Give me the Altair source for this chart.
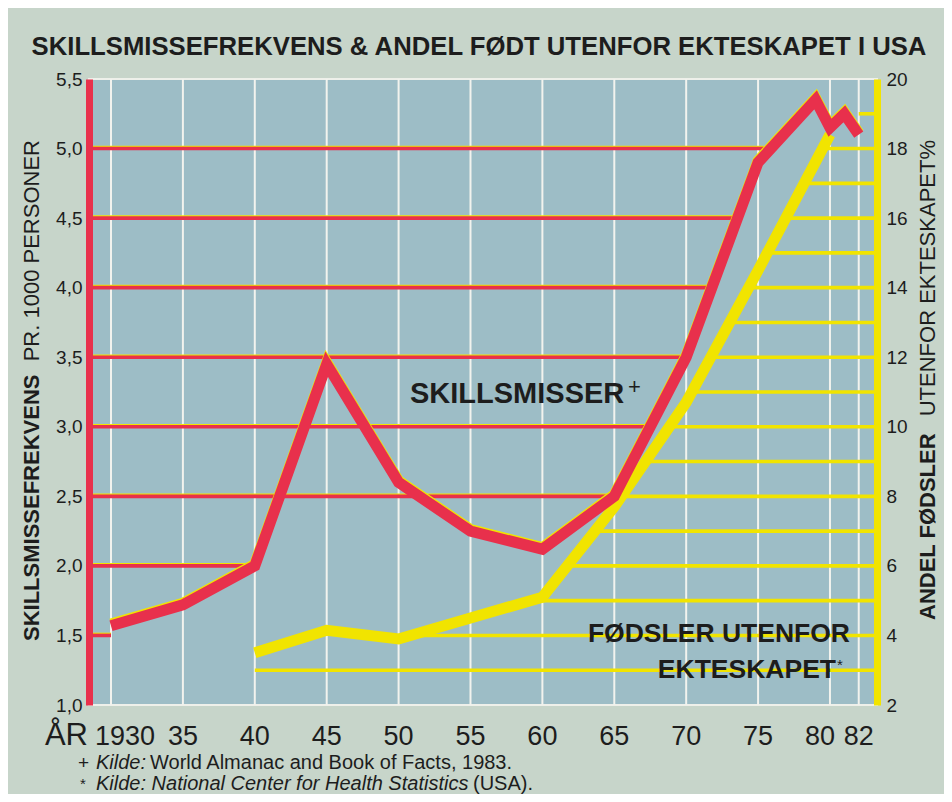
import altair as alt
import pandas as pd

TITLE = "SKILLSMISSEFREKVENS & ANDEL FØDT UTENFOR EKTESKAPET I USA"

# Divorce rate per 1000 persons (left axis)
div_years = [1930, 1935, 1940, 1945, 1950, 1955, 1960, 1965, 1970, 1975, 1979, 1980, 1981, 1982]
div_rate = [1.57, 1.72, 2.0, 3.45, 2.6, 2.25, 2.12, 2.5, 3.5, 4.9, 5.35, 5.15, 5.25, 5.1]

# Share of births outside marriage, % (right axis)
birth_years = [1940, 1945, 1950, 1955, 1960, 1965, 1970, 1975, 1980]
birth_share = [3.5, 4.15, 3.9, 4.5, 5.1, 7.7, 10.7, 14.5, 18.4]

# Red guide lines (left axis level, year where they stop at the red curve)
red_levels = [1.5, 2.0, 2.5, 3.0, 3.5, 4.0, 4.5, 5.0]
red_ends = [1930, 1940, 1965, 1967.5, 1970, 1971.8, 1973.6, 1975.4]

# Yellow guide lines (right axis level, year where they start at the yellow curve)
yellow_levels = [3, 4, 5, 6, 7, 8, 9, 10, 11, 12, 13, 14, 15, 16, 17, 18, 19]
yellow_starts = [1940, 1951, 1959.1, 1961.7, 1963.7, 1965.5, 1967.2, 1968.8, 1970.4,
                 1971.7, 1973, 1974.3, 1975.6, 1976.9, 1978.2, 1979.5, 1982]

x_ticks = [1930, 1935, 1940, 1945, 1950, 1955, 1960, 1965, 1970, 1975, 1980, 1982]
x_labels = ["1930", "35", "40", "45", "50", "55", "60", "65", "70", "75", "80", "82"]
left_ticks = [1.0, 1.5, 2.0, 2.5, 3.0, 3.5, 4.0, 4.5, 5.0, 5.5]
right_ticks = [2, 4, 6, 8, 10, 12, 14, 16, 18, 20]
x_domain = [1928.47, 1983.27]
left_domain = [1.0, 5.5]
right_domain = [2, 20]

RED = "#e8304c"
YELLOW = "#f1e400"
PLOT_BG = "#9dbdc6"
OUTER_BG = "#c7d5ca"
GRID = "#f2f3ee"
TEXT = "#1d1d1d"
SANS = "Liberation Sans, Arial, Helvetica, sans-serif"

W, H = 788, 626
OX, OY = 89, 79  # page position of plot origin


def px(x):
    return x - OX


def py(y):
    return y - OY


x_scale = alt.Scale(domain=x_domain, nice=False, zero=False)
yl_scale = alt.Scale(domain=left_domain, nice=False, zero=False)
yr_scale = alt.Scale(domain=right_domain, nice=False, zero=False)

yl_axis = alt.Axis(
    orient="left", values=left_ticks, grid=False, ticks=False, title=None,
    domain=True, domainColor=RED, domainWidth=7,
    labelExpr="replace(format(datum.value, '.1f'), '.', ',')",
    labelFont=SANS, labelFontSize=19, labelColor=TEXT, labelPadding=7, zindex=1,
)
yr_axis = alt.Axis(
    orient="right", values=right_ticks, grid=False, ticks=False, title=None,
    domain=True, domainColor=YELLOW, domainWidth=7,
    labelFont=SANS, labelFontSize=19, labelColor=TEXT, labelPadding=9, zindex=1,
)

df_div = pd.DataFrame({"year": div_years, "rate": div_rate})
df_birth = pd.DataFrame({"year": birth_years, "share": birth_share})
df_red = pd.DataFrame({"level": red_levels, "end": red_ends})
df_yel = pd.DataFrame({"level": yellow_levels, "start": yellow_starts})
df_xt = pd.DataFrame({"year": x_ticks, "label": x_labels})

X_YEAR = alt.X("year:Q", scale=x_scale, axis=None)

# vertical white grid lines at the year ticks
grid = alt.Chart(df_xt).mark_rule(color=GRID, strokeWidth=2).encode(
    x=X_YEAR, y=alt.value(0), y2=alt.value(H)
)

# year labels under the plot
lab_base = alt.Chart(df_xt).encode(x=X_YEAR, y=alt.value(py(745)), text="label:N")
lab_mid = lab_base.transform_filter("datum.year != 1930 && datum.year != 1980").mark_text(
    font=SANS, fontSize=27, color=TEXT, align="center", baseline="alphabetic")
lab_first = lab_base.transform_filter("datum.year == 1930").mark_text(
    font=SANS, fontSize=27, color=TEXT, align="left", baseline="alphabetic", dx=-16)
lab_80 = lab_base.transform_filter("datum.year == 1980").mark_text(
    font=SANS, fontSize=27, color=TEXT, align="right", baseline="alphabetic", dx=5)

# red guide lines on the left scale (thin yellow edge on top); carries the left axis
red_base = alt.Chart(df_red).transform_calculate(start=str(x_domain[0]))
red_rule_edge = red_base.mark_rule(color=YELLOW, strokeWidth=1.6, yOffset=-2).encode(
    x=alt.X("start:Q", scale=x_scale, axis=None),
    x2="end:Q",
    y=alt.Y("level:Q", scale=yl_scale, axis=yl_axis),
)
red_rule = red_base.mark_rule(color=RED, strokeWidth=3.6).encode(
    x=alt.X("start:Q", scale=x_scale, axis=None),
    x2="end:Q",
    y=alt.Y("level:Q", scale=yl_scale, axis=None),
)

# yellow guide lines and births curve on the right scale
yel_rules = alt.Chart(df_yel).transform_calculate(stop=str(x_domain[1])).mark_rule(
    color=YELLOW, strokeWidth=3.6
).encode(
    x=alt.X("start:Q", scale=x_scale, axis=None),
    x2="stop:Q",
    y=alt.Y("level:Q", scale=yr_scale, axis=yr_axis),
)
yel_line = alt.Chart(df_birth).mark_line(
    color=YELLOW, strokeWidth=11, strokeJoin="miter", strokeMiterLimit=10, strokeCap="butt"
).encode(
    x=X_YEAR,
    y=alt.Y("share:Q", scale=yr_scale, axis=None),
)

# divorce curve on the left scale
red_line_edge = alt.Chart(df_div).mark_line(
    color=YELLOW, strokeWidth=11, strokeJoin="miter", strokeMiterLimit=10, strokeCap="butt", yOffset=-1.6
).encode(
    x=X_YEAR,
    y=alt.Y("rate:Q", scale=yl_scale, axis=None),
)
red_line = alt.Chart(df_div).mark_line(
    color=RED, strokeWidth=11, strokeJoin="miter", strokeMiterLimit=10, strokeCap="butt"
).encode(
    x=X_YEAR,
    y=alt.Y("rate:Q", scale=yl_scale, axis=None),
)


def txt(s, x, y, **kw):
    return alt.Chart(pd.DataFrame({"t": [s]})).mark_text(**kw).encode(
        x=alt.value(px(x)), y=alt.value(py(y)), text="t:N"
    )


texts = [
    # chart title
    txt(TITLE, 479, 47, font=SANS, fontWeight="bold", fontSize=25.7, color=TEXT,
        align="center", baseline="middle"),
    # series labels
    txt("SKILLSMISSER", 410, 403, font=SANS, fontWeight="bold", fontSize=29, color=TEXT,
        align="left", baseline="alphabetic"),
    txt("+", 628, 387, font=SANS, fontSize=22, color=TEXT, align="left", baseline="middle"),
    txt("FØDSLER UTENFOR", 850, 642, font=SANS, fontWeight="bold", fontSize=26.5, color=TEXT,
        align="right", baseline="alphabetic"),
    txt("EKTESKAPET", 836, 678, font=SANS, fontWeight="bold", fontSize=26.5, color=TEXT,
        align="right", baseline="alphabetic"),
    txt("*", 837, 658, font=SANS, fontSize=15, color=TEXT, align="left", baseline="top"),
    # left axis title
    txt("SKILLSMISSEFREKVENS", 32, 641, font=SANS, fontWeight="bold", fontSize=22, color=TEXT,
        align="left", baseline="middle", angle=270),
    txt("PR. 1000 PERSONER", 32, 140, font=SANS, fontSize=22, color=TEXT,
        align="right", baseline="middle", angle=270),
    # right axis title
    txt("ANDEL FØDSLER", 928, 620, font=SANS, fontWeight="bold", fontSize=22, color=TEXT,
        align="left", baseline="middle", angle=270),
    txt("UTENFOR EKTESKAPET%", 928, 140, font=SANS, fontSize=22, color=TEXT,
        align="right", baseline="middle", angle=270),
    # x axis word
    txt("ÅR", 88, 745, font=SANS, fontSize=31, color=TEXT, align="right", baseline="alphabetic"),
    # footnotes
    txt("+", 78, 763, font=SANS, fontSize=19, color=TEXT, align="left", baseline="middle"),
    txt("Kilde:", 96, 763, font=SANS, fontSize=20, fontStyle="italic", color=TEXT,
        align="left", baseline="middle"),
    txt("World Almanac and Book of Facts, 1983.", 150, 763, font=SANS, fontSize=20, color=TEXT,
        align="left", baseline="middle"),
    txt("*", 80, 784, font=SANS, fontSize=15, color=TEXT, align="left", baseline="middle"),
    txt("Kilde: National Center for Health Statistics", 96, 784, font=SANS, fontSize=20,
        fontStyle="italic", color=TEXT, align="left", baseline="middle"),
    txt("(USA).", 473, 784, font=SANS, fontSize=20, color=TEXT, align="left", baseline="middle"),
]

chart = (
    alt.layer(grid, red_rule_edge, red_rule, yel_rules, yel_line, red_line_edge, red_line,
              lab_mid, lab_first, lab_80, *texts)
    .resolve_scale(y="independent")
    .properties(
        width=W,
        height=H,
        background=OUTER_BG,
        padding={"left": OX - 8, "top": OY - 8, "right": 936 - (OX - 8) - W, "bottom": 786 - (OY - 8) - H},
        autosize=alt.AutoSizeParams(type="none"),
    )
    .configure_view(fill=PLOT_BG, stroke="#eef0ea", strokeWidth=2)
)

chart.save("out.html", embed_options={"renderer": "svg", "actions": False})
